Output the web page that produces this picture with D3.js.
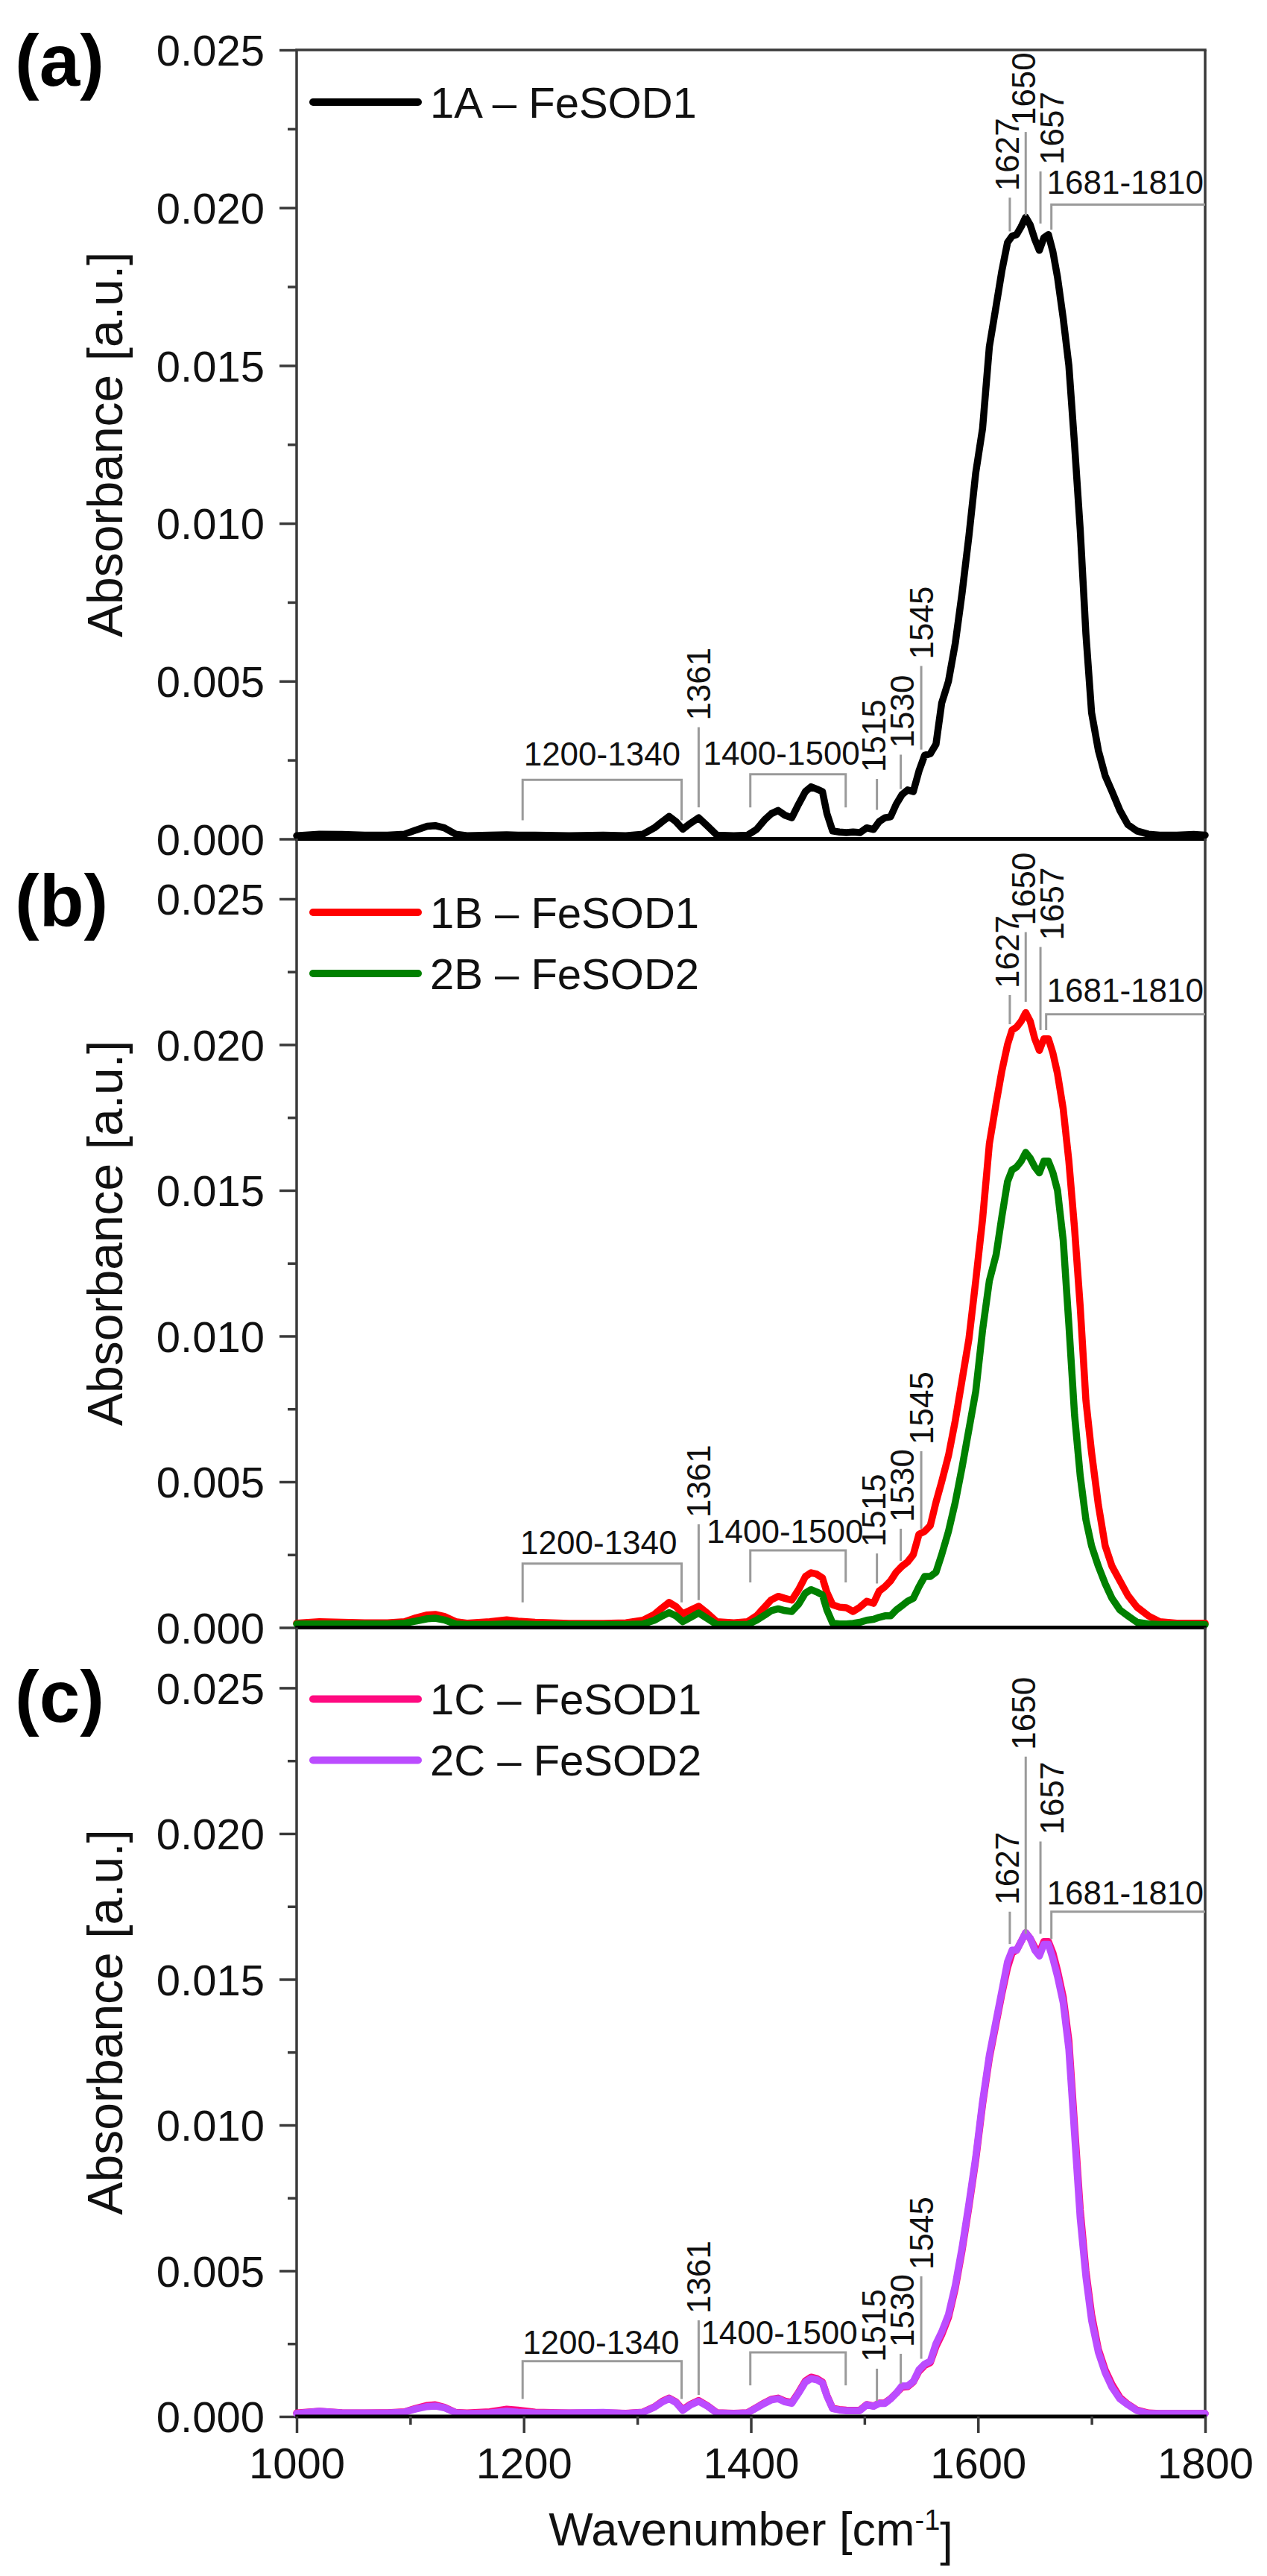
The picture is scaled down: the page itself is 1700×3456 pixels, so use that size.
<!DOCTYPE html>
<html>
<head>
<meta charset="utf-8">
<script src="https://cdn.jsdelivr.net/npm/d3@7"></script>
<style>
  body { margin: 0; background: #fff; }
  svg { display: block; font-family: 'Liberation Sans', Arial, sans-serif; }
</style>
</head>
<body>
<svg id="chart"></svg>
<script>
// Wavenumber grid shared by every spectrum [cm-1]
const wavenumbers = [
  1000, 1020, 1040, 1060, 1080, 1095, 1105, 1115, 1122, 1130,
  1140, 1150, 1170, 1185, 1195, 1210, 1240, 1270, 1290, 1305,
  1315, 1322, 1328, 1334, 1340, 1347, 1354, 1362, 1370, 1385,
  1397, 1405, 1412, 1418, 1424, 1430, 1436, 1442, 1448, 1453,
  1458, 1463, 1467, 1472, 1478, 1484, 1490, 1496, 1502, 1508,
  1513, 1518, 1523, 1528, 1533, 1538, 1543, 1548, 1553, 1558,
  1563, 1568, 1574, 1580, 1586, 1592, 1598, 1604, 1610, 1616,
  1621, 1626, 1630, 1634, 1638, 1642, 1646, 1650, 1654, 1658,
  1662, 1666, 1670, 1675, 1680, 1685, 1690, 1695, 1700, 1706,
  1712, 1718, 1725, 1732, 1740, 1750, 1760, 1775, 1790, 1800,
];

const absorbance1A = [
  0.00010, 0.00015, 0.00014, 0.00012, 0.00012, 0.00015, 0.00028, 0.00040, 0.00042, 0.00035,
  0.00015, 0.00010, 0.00012, 0.00013, 0.00012, 0.00012, 0.00010, 0.00012, 0.00010, 0.00015,
  0.00035, 0.00055, 0.00071, 0.00055, 0.00031, 0.00050, 0.00067, 0.00040, 0.00012, 0.00010,
  0.00012, 0.00030, 0.00060, 0.00080, 0.00090, 0.00075, 0.00067, 0.00110, 0.00150, 0.00165,
  0.00158, 0.00150, 0.00080, 0.00025, 0.00022, 0.00020, 0.00022, 0.00020, 0.00035, 0.00030,
  0.00055, 0.00067, 0.00070, 0.00110, 0.00140, 0.00155, 0.00150, 0.00215, 0.00265, 0.00270,
  0.00300, 0.00430, 0.00500, 0.00620, 0.00780, 0.00960, 0.01160, 0.01300, 0.01560, 0.01690,
  0.01800, 0.01890, 0.01910, 0.01915, 0.01940, 0.01970, 0.01945, 0.01900, 0.01865, 0.01905,
  0.01915, 0.01860, 0.01780, 0.01650, 0.01500, 0.01250, 0.00980, 0.00650, 0.00400, 0.00280,
  0.00200, 0.00150, 0.00090, 0.00045, 0.00025, 0.00015, 0.00012, 0.00012, 0.00014, 0.00012,
];

const absorbance1B = [
  0.00015, 0.00020, 0.00018, 0.00016, 0.00016, 0.00020, 0.00033, 0.00043, 0.00045, 0.00038,
  0.00020, 0.00015, 0.00020, 0.00026, 0.00022, 0.00018, 0.00014, 0.00014, 0.00016, 0.00025,
  0.00045, 0.00068, 0.00086, 0.00072, 0.00047, 0.00060, 0.00073, 0.00048, 0.00020, 0.00016,
  0.00020, 0.00040, 0.00070, 0.00095, 0.00107, 0.00100, 0.00094, 0.00130, 0.00175, 0.00188,
  0.00183, 0.00170, 0.00120, 0.00078, 0.00070, 0.00068, 0.00055, 0.00070, 0.00090, 0.00083,
  0.00125, 0.00140, 0.00160, 0.00190, 0.00210, 0.00225, 0.00250, 0.00320, 0.00330, 0.00350,
  0.00430, 0.00500, 0.00590, 0.00710, 0.00850, 0.00990, 0.01190, 0.01400, 0.01660, 0.01800,
  0.01910, 0.02000, 0.02050, 0.02060, 0.02080, 0.02110, 0.02080, 0.02020, 0.01980, 0.02020,
  0.02020, 0.01970, 0.01900, 0.01780, 0.01600, 0.01370, 0.01100, 0.00780, 0.00600, 0.00420,
  0.00280, 0.00210, 0.00160, 0.00110, 0.00070, 0.00040, 0.00020, 0.00015, 0.00015, 0.00015,
];

const absorbance2B = [
  0.00012, 0.00012, 0.00012, 0.00012, 0.00012, 0.00015, 0.00022, 0.00030, 0.00032, 0.00026,
  0.00012, 0.00010, 0.00010, 0.00012, 0.00012, 0.00010, 0.00010, 0.00010, 0.00010, 0.00012,
  0.00025, 0.00040, 0.00051, 0.00040, 0.00020, 0.00035, 0.00050, 0.00030, 0.00010, 0.00010,
  0.00010, 0.00025, 0.00042, 0.00058, 0.00064, 0.00058, 0.00055, 0.00080, 0.00118, 0.00130,
  0.00122, 0.00112, 0.00060, 0.00015, 0.00012, 0.00012, 0.00014, 0.00018, 0.00025, 0.00028,
  0.00035, 0.00040, 0.00040, 0.00060, 0.00075, 0.00090, 0.00100, 0.00140, 0.00175, 0.00175,
  0.00190, 0.00250, 0.00330, 0.00430, 0.00550, 0.00680, 0.00810, 0.01020, 0.01190, 0.01280,
  0.01410, 0.01530, 0.01570, 0.01580, 0.01600, 0.01630, 0.01610, 0.01580, 0.01560, 0.01600,
  0.01600, 0.01560, 0.01500, 0.01330, 0.01040, 0.00730, 0.00520, 0.00370, 0.00280, 0.00210,
  0.00150, 0.00100, 0.00060, 0.00040, 0.00018, 0.00012, 0.00010, 0.00010, 0.00010, 0.00010,
];

const absorbance1C = [
  0.00012, 0.00018, 0.00013, 0.00012, 0.00013, 0.00016, 0.00028, 0.00038, 0.00040, 0.00032,
  0.00014, 0.00012, 0.00016, 0.00025, 0.00022, 0.00015, 0.00012, 0.00013, 0.00011, 0.00015,
  0.00033, 0.00052, 0.00063, 0.00050, 0.00024, 0.00042, 0.00055, 0.00036, 0.00013, 0.00011,
  0.00013, 0.00031, 0.00047, 0.00059, 0.00063, 0.00053, 0.00048, 0.00083, 0.00122, 0.00135,
  0.00130, 0.00118, 0.00072, 0.00028, 0.00024, 0.00022, 0.00021, 0.00022, 0.00041, 0.00036,
  0.00046, 0.00047, 0.00061, 0.00080, 0.00100, 0.00102, 0.00118, 0.00155, 0.00175, 0.00185,
  0.00240, 0.00280, 0.00340, 0.00440, 0.00570, 0.00720, 0.00880, 0.01070, 0.01230, 0.01350,
  0.01450, 0.01540, 0.01590, 0.01600, 0.01630, 0.01660, 0.01640, 0.01610, 0.01590, 0.01630,
  0.01630, 0.01590, 0.01530, 0.01440, 0.01290, 0.01000, 0.00710, 0.00500, 0.00350, 0.00230,
  0.00160, 0.00110, 0.00065, 0.00042, 0.00022, 0.00012, 0.00010, 0.00010, 0.00010, 0.00010,
];

const absorbance2C = [
  0.00010, 0.00018, 0.00012, 0.00012, 0.00012, 0.00015, 0.00026, 0.00034, 0.00036, 0.00030,
  0.00013, 0.00010, 0.00012, 0.00018, 0.00015, 0.00012, 0.00012, 0.00014, 0.00010, 0.00014,
  0.00032, 0.00050, 0.00061, 0.00048, 0.00021, 0.00040, 0.00052, 0.00035, 0.00012, 0.00010,
  0.00012, 0.00030, 0.00045, 0.00057, 0.00061, 0.00050, 0.00045, 0.00080, 0.00118, 0.00130,
  0.00126, 0.00115, 0.00070, 0.00027, 0.00022, 0.00020, 0.00020, 0.00020, 0.00040, 0.00035,
  0.00045, 0.00045, 0.00060, 0.00080, 0.00105, 0.00105, 0.00120, 0.00160, 0.00180, 0.00190,
  0.00250, 0.00290, 0.00350, 0.00450, 0.00580, 0.00730, 0.00890, 0.01080, 0.01240, 0.01360,
  0.01460, 0.01560, 0.01600, 0.01600, 0.01630, 0.01660, 0.01640, 0.01600, 0.01580, 0.01620,
  0.01620, 0.01570, 0.01510, 0.01420, 0.01260, 0.00970, 0.00680, 0.00480, 0.00330, 0.00220,
  0.00150, 0.00100, 0.00060, 0.00040, 0.00020, 0.00010, 0.00010, 0.00010, 0.00010, 0.00010,
];

const seriesLabels = ['1A \u2013 FeSOD1', '1B \u2013 FeSOD1', '2B \u2013 FeSOD2', '1C \u2013 FeSOD1', '2C \u2013 FeSOD2'];
const seriesValues = [absorbance1A, absorbance1B, absorbance2B, absorbance1C, absorbance2C];

const panelLetters = ['(a)', '(b)', '(c)'];
const panelSeries = [[0], [1, 2], [3, 4]];
const panelYMax = [0.025, 0.02707, 0.02707];

const yTickValues = [0, 0.005, 0.01, 0.015, 0.02, 0.025];
const yMinorValues = [0.0025, 0.0075, 0.0125, 0.0175, 0.0225];
const xTickValues = [1000, 1200, 1400, 1600, 1800];
const xMinorValues = [1100, 1300, 1500, 1700];

// Band marks: label, wavenumber of the marker line, and per panel [from, to] absorbance
const bandLabels = ['1361', '1515', '1530', '1545', '1627', '1650', '1657'];
const bandAt = [1354, 1511, 1532, 1550, 1628, 1642, 1655];
const bandSpans = [
  [[0.0010, 0.00354], [0.00092, 0.0019], [0.00158, 0.00267], [0.00283, 0.00548], [0.01925, 0.02032], [0.01975, 0.0224], [0.0195, 0.02115]],
  [[0.00094, 0.00354], [0.00151, 0.00254], [0.00229, 0.00339], [0.00339, 0.00605], [0.0207, 0.0217], [0.02147, 0.02386], [0.0205, 0.02335]],
  [[0.00074, 0.0033], [0.00053, 0.00164], [0.00113, 0.00215], [0.00198, 0.00481], [0.01621, 0.01732], [0.01656, 0.02264], [0.01656, 0.01973]],
];

// Range brackets: label, wavenumber ends, per panel [bar, leg end, label x, label baseline]
const rangeLabels = ['1200-1340', '1400-1500'];
const rangeAt = [[1199, 1339], [1399.5, 1483.5]];
const rangeSpans = [
  [[0.00187, 0.00059, 1269, 0.00232], [0.00205, 0.0010, 1427, 0.00236]],
  [[0.00219, 0.00086, 1266, 0.00252], [0.00265, 0.00155, 1430, 0.0029]],
  [[0.0019, 0.0006, 1268, 0.00215], [0.0022, 0.00107, 1425, 0.00248]],
];

// Elbow mark running to the right edge: per panel [wavenumber, from, to, label baseline]
const elbowLabel = '1681-1810';
const elbowSpans = [
  [1664.6, 0.0193, 0.0201, 0.02045],
  [1660, 0.0205, 0.02104, 0.02147],
  [1664.6, 0.01638, 0.01732, 0.01758],
];

// Styles
const colors = ['#000000', '#ff0000', '#008000', '#ff0a80', '#bb4cff'];
const frameColor = '#3a3a3a';
const markColor = '#9a9a9a';
// sideways nudge of band label text relative to its marker line (px)
const bandTextShift = [0, -4, 2, 0, -4, -3, 15];

// Layout
const width = 1700;
const height = 3456;
const plotLeft = 398;
const plotRight = 1617;
const panelTops = [67, 1125, 2183.5];
const panelHeight = 1058.5;
const legendTops = [70, 99, 96];
const legendGap = 82;
const letterBaselines = [115, 1242, 2310];

const svg = d3.select('#chart')
  .attr('width', width)
  .attr('height', height)
  .attr('viewBox', `0 0 ${width} ${height}`);

svg.append('rect')
  .attr('width', width)
  .attr('height', height)
  .style('fill', 'white');

const x = d3.scaleLinear().domain([1000, 1800]).range([plotLeft, plotRight]);

panelTops.forEach((top, p) => {
  const y = d3.scaleLinear().domain([0, panelYMax[p]]).range([panelHeight, 0]);

  const g = svg.append('g')
    .attr('class', `panel panel-${p}`)
    .attr('transform', `translate(0, ${top})`);

  // Frame (left, right, top)
  const frame = g.append('g').attr('class', 'frame')
    .style('stroke', frameColor)
    .style('stroke-width', 3.5)
    .style('fill', 'none');
  frame.append('line')
    .attr('x1', plotLeft).attr('x2', plotLeft)
    .attr('y1', 0).attr('y2', panelHeight);
  frame.append('line')
    .attr('x1', plotRight).attr('x2', plotRight)
    .attr('y1', 0).attr('y2', panelHeight);
  if (p === 0) {
    frame.append('line')
      .attr('x1', plotLeft - 1.75).attr('x2', plotRight + 1.75)
      .attr('y1', 0).attr('y2', 0);
  }

  // Y axis, major and minor ticks
  const yAxis = g.append('g').attr('class', 'axis axis--y')
    .attr('transform', `translate(${plotLeft}, 0)`)
    .call(d3.axisLeft(y)
      .tickValues(yTickValues)
      .tickSize(23)
      .tickPadding(20)
      .tickFormat(d3.format('.3f')));
  yAxis.select('.domain').remove();
  yAxis.selectAll('line').style('stroke', frameColor).style('stroke-width', 3.5);
  yAxis.selectAll('text')
    .style('font-size', '58px')
    .style('fill', '#111')
    .attr('dy', '0.36em');

  const yMinor = g.append('g').attr('class', 'axis axis--y-minor')
    .attr('transform', `translate(${plotLeft}, 0)`)
    .call(d3.axisLeft(y).tickValues(yMinorValues).tickSize(12).tickFormat(''));
  yMinor.select('.domain').remove();
  yMinor.selectAll('line').style('stroke', frameColor).style('stroke-width', 3.5);

  // Y title
  g.append('text')
    .attr('class', 'y-title')
    .attr('transform', `translate(140, ${panelHeight / 2}) rotate(-90)`)
    .attr('text-anchor', 'middle')
    .attr('dy', '0.36em')
    .style('font-size', '66px')
    .style('fill', '#111')
    .text('Absorbance [a.u.]');

  // Spectra
  const line = d3.line()
    .x((d, i) => x(wavenumbers[i]))
    .y(d => y(d))
    .curve(d3.curveLinear);

  g.append('g').attr('class', 'spectra')
    .selectAll('path')
    .data(panelSeries[p])
    .join('path')
    .attr('d', s => line(seriesValues[s]))
    .style('fill', 'none')
    .style('stroke', s => colors[s])
    .style('stroke-width', 9.5)
    .style('stroke-linejoin', 'round')
    .style('stroke-linecap', 'round');

  // Band markers
  const marks = g.append('g').attr('class', 'marks');
  bandLabels.forEach((label, i) => {
    const [from, to] = bandSpans[p][i];
    marks.append('line')
      .attr('x1', x(bandAt[i])).attr('x2', x(bandAt[i]))
      .attr('y1', y(from)).attr('y2', y(to))
      .style('stroke', markColor)
      .style('stroke-width', 3);
    marks.append('text')
      .attr('transform', `translate(${x(bandAt[i]) + bandTextShift[i]}, ${y(to) - 9}) rotate(-90)`)
      .attr('dy', '0.36em')
      .style('font-size', '44px')
      .style('fill', '#111')
      .text(label);
  });

  rangeLabels.forEach((label, i) => {
    const [bar, leg, labelX, labelY] = rangeSpans[p][i];
    const [x0, x1] = rangeAt[i];
    marks.append('path')
      .attr('d', `M${x(x0)},${y(leg)}V${y(bar)}H${x(x1)}V${y(leg)}`)
      .style('fill', 'none')
      .style('stroke', markColor)
      .style('stroke-width', 3);
    marks.append('text')
      .attr('x', x(labelX))
      .attr('y', y(labelY))
      .attr('text-anchor', 'middle')
      .style('font-size', '44px')
      .style('fill', '#111')
      .text(label);
  });

  const [ex, eFrom, eTo, eLabel] = elbowSpans[p];
  marks.append('path')
    .attr('d', `M${x(ex)},${y(eFrom)}V${y(eTo)}H${x(1800)}`)
    .style('fill', 'none')
    .style('stroke', markColor)
    .style('stroke-width', 3);
  marks.append('text')
    .attr('x', x(1800) - 2)
    .attr('y', y(eLabel))
    .attr('text-anchor', 'end')
    .style('font-size', '44px')
    .style('fill', '#111')
    .text(elbowLabel);

  // Baseline of the panel
  g.append('line')
    .attr('class', 'baseline')
    .attr('x1', plotLeft - 1.75).attr('x2', plotRight + 1.75)
    .attr('y1', panelHeight).attr('y2', panelHeight)
    .style('stroke', '#000')
    .style('stroke-width', 5);

  // Legend
  const legend = g.append('g').attr('class', 'legend')
    .attr('transform', `translate(0, ${legendTops[p]})`);
  panelSeries[p].forEach((s, i) => {
    legend.append('line')
      .attr('x1', 420).attr('x2', 561)
      .attr('y1', i * legendGap).attr('y2', i * legendGap)
      .style('stroke', colors[s])
      .style('stroke-width', 10)
      .style('stroke-linecap', 'round');
    legend.append('text')
      .attr('x', 577)
      .attr('y', i * legendGap)
      .attr('dy', '0.36em')
      .style('font-size', '58px')
      .style('fill', '#111')
      .text(seriesLabels[s]);
  });

  // Panel letter
  svg.append('text')
    .attr('class', 'panel-letter')
    .attr('x', 20)
    .attr('y', letterBaselines[p])
    .style('font-size', '98px')
    .style('font-weight', 'bold')
    .style('fill', '#000')
    .text(panelLetters[p]);

  // X axis only on the bottom panel
  if (p === panelTops.length - 1) {
    const xAxis = g.append('g').attr('class', 'axis axis--x')
      .attr('transform', `translate(0, ${panelHeight})`)
      .call(d3.axisBottom(x).tickValues(xTickValues).tickSize(22).tickPadding(20).tickFormat(d3.format('d')));
    xAxis.select('.domain').remove();
    xAxis.selectAll('line').style('stroke', frameColor).style('stroke-width', 3.5);
    xAxis.selectAll('text')
      .style('font-size', '58px')
      .style('fill', '#111');

    const xMinor = g.append('g').attr('class', 'axis axis--x-minor')
      .attr('transform', `translate(0, ${panelHeight})`)
      .call(d3.axisBottom(x).tickValues(xMinorValues).tickSize(11).tickFormat(''));
    xMinor.select('.domain').remove();
    xMinor.selectAll('line').style('stroke', frameColor).style('stroke-width', 3.5);

    const title = g.append('text')
      .attr('class', 'x-title')
      .attr('x', (plotLeft + plotRight) / 2)
      .attr('y', panelHeight + 173)
      .attr('text-anchor', 'middle')
      .style('font-size', '63px')
      .style('fill', '#111');
    title.append('tspan').text('Wavenumber [cm');
    title.append('tspan')
      .attr('dy', '-0.55em')
      .style('font-size', '38px')
      .text('-1');
    title.append('tspan')
      .attr('dy', '0.55em')
      .text(']');
  }
});
</script>
</body>
</html>
